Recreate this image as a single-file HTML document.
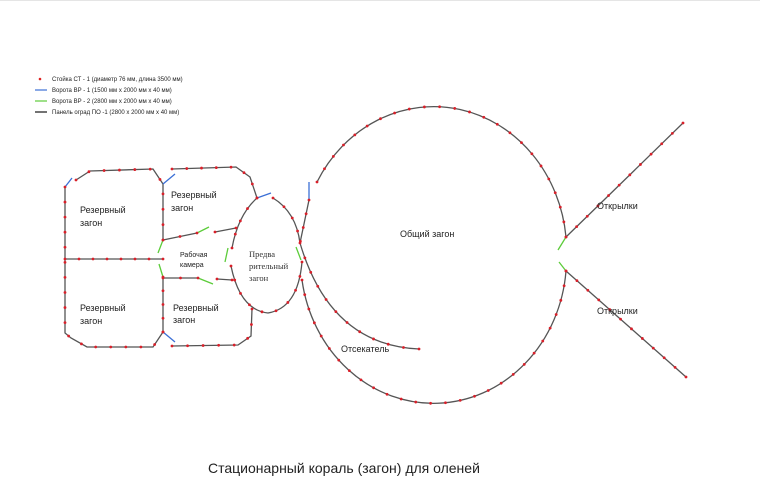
<!DOCTYPE html>
<html><head><meta charset="utf-8"><style>
body{margin:0;background:#fff;}
svg{display:block;font-family:"Liberation Sans",sans-serif;}
</style></head><body>
<svg id="s" width="760" height="497" viewBox="0 0 760 497">
<rect width="760" height="497" fill="#fff"/>
<line x1="0" y1="0.5" x2="760" y2="0.5" stroke="#e5e5e5"/>
<!-- legend -->
<circle cx="40" cy="79" r="1.3" fill="#d22"/>
<line x1="35" y1="90" x2="47" y2="90" stroke="#3b6fd6" stroke-width="1.2"/>
<line x1="35" y1="101" x2="47" y2="101" stroke="#5ccc3a" stroke-width="1.2"/>
<line x1="35" y1="112" x2="47" y2="112" stroke="#444" stroke-width="1.5"/>
<g font-size="6" fill="#222">
<text x="52" y="81">Стойка СТ - 1 (диаметр 76 мм, длина 3500 мм)</text>
<text x="52" y="92">Ворота ВР - 1 (1500 мм x 2000 мм x 40 мм)</text>
<text x="52" y="103">Ворота ВР - 2 (2800 мм x 2000 мм x 40 мм)</text>
<text x="52" y="114">Панель оград ПО -1 (2800 x 2000 мм x 40 мм)</text>
</g>
<g id="fence" fill="none" stroke="#555" stroke-width="1.3">
<path d="M65,187 L65,333 L71,338 L87,347 L153,347 L163,332"/>
<path d="M76,180 L90,171 L153,169 L163,184 L163,240"/>
<path d="M65,259 L163,259"/>
<path d="M163,277 L163,332"/>
<path d="M172,169 L236,167 L250,177 L257,198"/>
<path d="M163,240 L197,233"/>
<path d="M215,232 L236,228"/>
<path d="M163,278 L198,278"/>
<path d="M217,279 L232,280"/>
<path d="M172,346 L238,345 L251,336 L252,309"/>
<path d="M257,198 Q238,215 232,248"/>
<path d="M231,266 Q240,310 268,313 Q298,308 302,262"/>
<path d="M273,198 Q296,212 300,243 L309,200"/>
<path d="M317,182 A133,145 0 0 1 566,237"/>
<path d="M566,271 A133,145 0 0 1 302,280"/>
<path d="M300,243 Q330,345 419,349"/>
<path d="M566,237 L683,123"/>
<path d="M566,271 L686,377"/>
</g>
<g stroke="#3b6fd6" stroke-width="1.3">
<line x1="65" y1="187" x2="72" y2="178"/>
<line x1="163" y1="184" x2="175" y2="174"/>
<line x1="163" y1="332" x2="175" y2="342"/>
<line x1="257" y1="198" x2="271" y2="193"/>
<line x1="309" y1="182" x2="309" y2="200"/>
</g>
<g stroke="#5ccc3a" stroke-width="1.3">
<line x1="163" y1="240" x2="158" y2="253"/>
<line x1="159" y1="264" x2="163" y2="277"/>
<line x1="197" y1="233" x2="209" y2="227"/>
<line x1="198" y1="278" x2="213" y2="284"/>
<line x1="228" y1="248" x2="225" y2="262"/>
<line x1="296" y1="247" x2="301" y2="260"/>
<line x1="566" y1="237" x2="558" y2="250"/>
<line x1="559" y1="262" x2="566" y2="271"/>
</g>
<g id="dots" fill="#d8202a"></g>
<g font-size="9" fill="#222">
<text x="80" y="213">Резервный</text><text x="80" y="226">загон</text>
<text x="171" y="198">Резервный</text><text x="171" y="211">загон</text>
<text x="80" y="311">Резервный</text><text x="80" y="324">загон</text>
<text x="173" y="311">Резервный</text><text x="173" y="323">загон</text>
<text x="400" y="237">Общий загон</text>
<text x="597" y="209">Открылки</text>
<text x="597" y="314">Открылки</text>
<text x="341" y="352">Отсекатель</text>
</g>
<g font-size="7" fill="#222"><text x="180" y="257">Рабочая</text><text x="180" y="267">камера</text></g>
<g font-size="8.5" fill="#333" font-family="Liberation Serif,serif"><text x="249" y="257">Предва</text><text x="249" y="269">рительный</text><text x="249" y="281">загон</text></g>
<text x="208" y="473" font-size="14" fill="#222">Стационарный кораль (загон) для оленей</text>
</svg>
<script>
var g=document.getElementById('dots');
document.querySelectorAll('#fence path').forEach(function(p){
 var L=p.getTotalLength(),n=Math.max(1,Math.round(L/15));
 for(var i=0;i<=n;i++){var pt=p.getPointAtLength(L*i/n);
  var c=document.createElementNS('http://www.w3.org/2000/svg','circle');
  c.setAttribute('cx',pt.x);c.setAttribute('cy',pt.y);c.setAttribute('r',1.4);g.appendChild(c);}
});
</script>
</body></html>
